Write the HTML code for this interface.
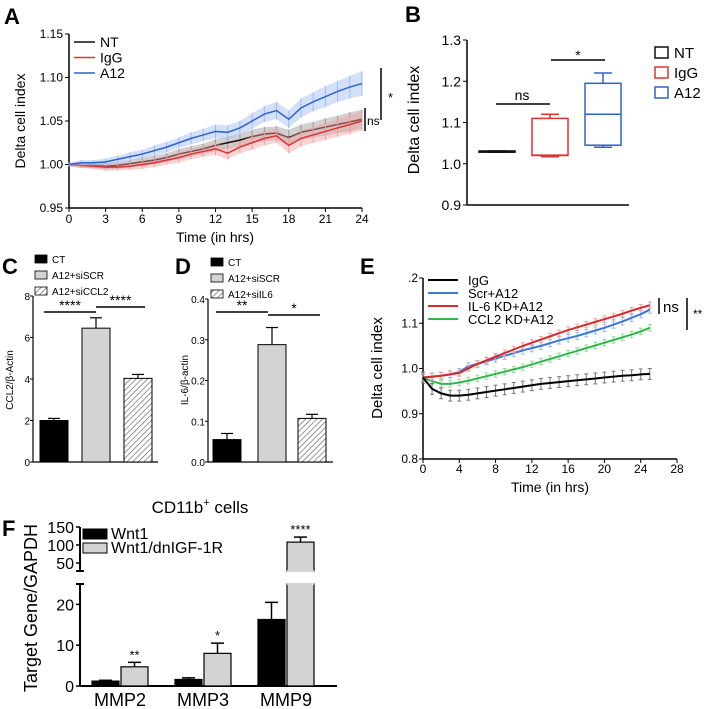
<!DOCTYPE html>
<html><head><meta charset="utf-8"><style>
body{margin:0;background:#fff}
svg{display:block;font-family:"Liberation Sans",sans-serif}
</style></head><body>
<svg id="fig" width="709" height="709" viewBox="0 0 709 709"></svg>
<script>
// ---------- DATA ----------
const aTimes=[0,1,2,3,4,5,6,7,8,9,10,11,12,13,14,15,16,17,18,19,20,21,22,23,24];
const aNT=[1.000,0.999,0.999,0.998,0.999,1.001,1.003,1.005,1.008,1.012,1.015,1.018,1.022,1.025,1.028,1.032,1.035,1.036,1.031,1.037,1.040,1.043,1.046,1.049,1.052];
const aIgG=[1.000,0.999,0.998,0.997,0.997,0.998,1.000,1.002,1.005,1.008,1.012,1.015,1.018,1.013,1.020,1.025,1.030,1.033,1.022,1.030,1.034,1.038,1.042,1.046,1.050];
const aA12=[1.000,1.002,1.002,1.003,1.006,1.009,1.012,1.016,1.020,1.025,1.030,1.034,1.038,1.037,1.042,1.050,1.058,1.062,1.052,1.065,1.072,1.078,1.084,1.089,1.093];
const aErrSmall=[0.002,0.003,0.003,0.004,0.004,0.004,0.005,0.005,0.005,0.006,0.006,0.006,0.007,0.007,0.007,0.008,0.008,0.008,0.009,0.009,0.009,0.010,0.010,0.011,0.011];
const aErrA12=[0.002,0.003,0.003,0.004,0.004,0.005,0.005,0.006,0.006,0.006,0.007,0.007,0.008,0.008,0.008,0.009,0.009,0.010,0.010,0.011,0.011,0.012,0.012,0.013,0.014];
const aXTicks=[0,3,6,9,12,15,18,21,24];
const aYTicks=[0.95,1.00,1.05,1.10,1.15];

const bGroups=["NT","IgG","A12"];
const bQ1=[1.028,1.020,1.045];
const bMed=[1.030,1.021,1.120];
const bQ3=[1.031,1.110,1.195];
const bMin=[1.028,1.017,1.040];
const bMax=[1.031,1.120,1.220];
const bYTicks=[0.9,1.0,1.1,1.2,1.3];

const cLabels=["CT","A12+siSCR","A12+siCCL2"];
const cVals=[2.0,6.45,4.03];
const cErr=[2.1,6.95,4.22];
const cYTicks=[0,2,4,6,8];

const dLabels=["CT","A12+siSCR","A12+siIL6"];
const dVals=[0.055,0.288,0.107];
const dErr=[0.070,0.330,0.117];
const dYTicks=[0.0,0.1,0.2,0.3,0.4];

const eTimes=[0,1,2,3,4,5,6,7,8,9,10,11,12,13,14,15,16,17,18,19,20,21,22,23,24,25];
const eIgG=[0.98,0.955,0.945,0.940,0.940,0.942,0.945,0.948,0.951,0.954,0.957,0.960,0.963,0.966,0.968,0.970,0.972,0.974,0.976,0.978,0.980,0.982,0.984,0.985,0.987,0.988];
const eScr=[0.98,0.982,0.984,0.987,0.992,1.005,1.010,1.016,1.022,1.028,1.034,1.040,1.045,1.050,1.056,1.062,1.067,1.072,1.078,1.084,1.090,1.097,1.104,1.112,1.120,1.130];
const eIL6=[0.98,0.982,0.984,0.987,0.990,1.000,1.010,1.018,1.026,1.034,1.042,1.050,1.057,1.064,1.071,1.078,1.085,1.091,1.097,1.103,1.109,1.115,1.121,1.128,1.134,1.140];
const eCCL2=[0.98,0.972,0.966,0.966,0.969,0.973,0.978,0.983,0.988,0.993,0.998,1.003,1.009,1.015,1.021,1.027,1.033,1.039,1.045,1.051,1.057,1.063,1.069,1.075,1.082,1.090];
const eXTicks=[0,4,8,12,16,20,24,28];
const eYTicks=[0.8,0.9,1.0,1.1,1.2];
const eYTickLabels=["0.8","0.9","1.0","1.1",".2"];

const fGenes=["MMP2","MMP3","MMP9"];
const fWnt1=[1.2,1.6,16.3];
const fWnt1Err=[1.4,2.0,20.5];
const fDn=[4.7,8.0,108];
const fDnErr=[5.8,10.5,122];
const fStars=["**","*","****"];
const fLowTicks=[0,10,20];
const fHighTicks=[50,100,150];

// ---------- HELPERS ----------
const NS="http://www.w3.org/2000/svg";
const svg=document.getElementById('fig');
function el(tag,attrs,parent,txt){const e=document.createElementNS(NS,tag);for(const k in attrs)e.setAttribute(k,attrs[k]);if(txt!==undefined)e.textContent=txt;(parent||svg).appendChild(e);return e;}
function grp(name){const g=el('g',{});


return g;}
function lin(d0,d1,r0,r1){return v=>r0+(v-d0)*(r1-r0)/(d1-d0);}

// ---------- PANEL A ----------
(function(){
const g=grp('panel-a');
const x=lin(0,24,69,362), y=lin(0.95,1.15,208,34);
let t=el('text',{x:4,y:24,'font-size':22,'font-weight':'bold'},g,'A');

el('line',{x1:69,y1:34,x2:69,y2:208,stroke:'#000','stroke-width':1.5},g);
el('line',{x1:69,y1:208,x2:362,y2:208,stroke:'#000','stroke-width':1.5},g);
aYTicks.forEach(v=>{el('line',{x1:65,x2:69,y1:y(v),y2:y(v),stroke:'#000'},g);
 const tt=el('text',{x:63,y:y(v)+4,'font-size':12,'text-anchor':'end'},g,v.toFixed(2));
 });
aXTicks.forEach(v=>{el('line',{x1:x(v),x2:x(v),y1:208,y2:212,stroke:'#000'},g);
 const tt=el('text',{x:x(v),y:223,'font-size':12,'text-anchor':'middle'},g,v);
 });
t=el('text',{x:215,y:242,'font-size':14,'text-anchor':'middle'},g,'Time (in hrs)');

t=el('text',{x:0,y:0,'font-size':14,'text-anchor':'middle',transform:'translate(25,121) rotate(-90)'},g,'Delta cell index');

const series=[[aNT,aErrSmall,'#111','#999','nt'],[aIgG,aErrSmall,'#d33','#f1a0a0','igg'],[aA12,aErrA12,'#2e64c8','#9dbbf0','a12']];
series.forEach(([vals,err,col,light,nm])=>{
 const sg=el('g',{},g);
 
 let up='',dn='';
 aTimes.forEach((tm,i)=>{up+=(i?'L':'M')+x(tm)+','+y(vals[i]+err[i]);});
 for(let i=aTimes.length-1;i>=0;i--)dn+='L'+x(aTimes[i])+','+y(vals[i]-err[i]);
 el('path',{d:up+dn+'Z',fill:light,opacity:0.45},sg);
 aTimes.forEach((tm,i)=>{el('line',{x1:x(tm),x2:x(tm),y1:y(vals[i]+err[i]),y2:y(vals[i]-err[i]),stroke:light,'stroke-width':1},sg);});
 el('path',{d:aTimes.map((tm,i)=>(i?'L':'M')+x(tm)+','+y(vals[i])).join(''),fill:'none',stroke:col,'stroke-width':1.5},sg);
});
const leg=[['NT','#111'],['IgG','#d33'],['A12','#2e64c8']];
leg.forEach(([n,c],i)=>{const lg=el('g',{},g);
 
 el('line',{x1:74,x2:95,y1:42+i*15.5,y2:42+i*15.5,stroke:c,'stroke-width':1.5},lg);
 el('text',{x:100,y:47+i*15.5,'font-size':14},lg,n);});
el('line',{x1:365,x2:365,y1:108,y2:131,stroke:'#000','stroke-width':1.5},g);
el('text',{x:367,y:125,'font-size':12},g,'ns');
el('line',{x1:381,x2:381,y1:68,y2:120,stroke:'#000','stroke-width':1.5},g);
el('text',{x:388,y:102,'font-size':13},g,'*');
})();

// ---------- PANEL B ----------
(function(){
const g=grp('panel-b');
const y=lin(0.9,1.3,205,40);
let t=el('text',{x:405,y:22,'font-size':22,'font-weight':'bold'},g,'B');

el('line',{x1:467,y1:40,x2:467,y2:205,stroke:'#000','stroke-width':1.5},g);
el('line',{x1:467,y1:205,x2:629,y2:205,stroke:'#000','stroke-width':1.5},g);
bYTicks.forEach(v=>{el('line',{x1:463,x2:467,y1:y(v),y2:y(v),stroke:'#000'},g);
 const tt=el('text',{x:461,y:y(v)+5,'font-size':14,'text-anchor':'end'},g,v.toFixed(1));
 });
t=el('text',{x:0,y:0,'font-size':16,'text-anchor':'middle',transform:'translate(419,120) rotate(-90)'},g,'Delta cell index');

const cols=['#111','#d33','#2e64c8'];const cx=[497,550,603];
bGroups.forEach((n,i)=>{const bg=el('g',{},g);
 
 const c=cols[i],l=cx[i]-18,r=cx[i]+18;
 el('line',{x1:cx[i],x2:cx[i],y1:y(bMax[i]),y2:y(bQ3[i]),stroke:c,'stroke-width':1.5},bg);
 el('line',{x1:cx[i],x2:cx[i],y1:y(bQ1[i]),y2:y(bMin[i]),stroke:c,'stroke-width':1.5},bg);
 el('line',{x1:cx[i]-9,x2:cx[i]+9,y1:y(bMax[i]),y2:y(bMax[i]),stroke:c,'stroke-width':1.5},bg);
 el('line',{x1:cx[i]-9,x2:cx[i]+9,y1:y(bMin[i]),y2:y(bMin[i]),stroke:c,'stroke-width':1.5},bg);
 el('rect',{x:l,y:y(bQ3[i]),width:36,height:Math.max(1,y(bQ1[i])-y(bQ3[i])),fill:'none',stroke:c,'stroke-width':1.5},bg);
 el('line',{x1:l,x2:r,y1:y(bMed[i]),y2:y(bMed[i]),stroke:c,'stroke-width':1.5},bg);
 const lg=el('g',{},g);
 
 el('rect',{x:655,y:47+i*20,width:13,height:11,fill:'none',stroke:c,'stroke-width':1.5},lg);
 el('text',{x:674,y:58+i*20,'font-size':15},lg,n);
});
el('line',{x1:496,x2:550,y1:104,y2:104,stroke:'#000','stroke-width':1.5},g);
el('text',{x:522,y:100,'font-size':14,'text-anchor':'middle'},g,'ns');
el('line',{x1:551,x2:605,y1:60,y2:60,stroke:'#000','stroke-width':1.5},g);
el('text',{x:578,y:60,'font-size':14,'text-anchor':'middle'},g,'*');
})();

// ---------- bar panel C/D ----------
function barPanel(name,letter,lx,ax,top,vals,err,labels,ticks,fmt,ylab,barsX,sig,legX){
 const g=grp(name);
 const y=lin(ticks[0],ticks[ticks.length-1],462,top);
 let t=el('text',{x:lx,y:274,'font-size':22,'font-weight':'bold'},g,letter);
 
 el('line',{x1:ax,y1:top,x2:ax,y2:462,stroke:'#000','stroke-width':1.2},g);
 el('line',{x1:ax,y1:462,x2:ax+125,y2:462,stroke:'#000','stroke-width':1.2},g);
 ticks.forEach(v=>{el('line',{x1:ax-3,x2:ax,y1:y(v),y2:y(v),stroke:'#000'},g);
  const tt=el('text',{x:ax-3,y:y(v)+4,'font-size':10,'text-anchor':'end'},g,fmt(v));
  });
 t=el('text',{x:0,y:0,'font-size':10,'text-anchor':'middle',transform:'translate('+(ax-20)+',380) rotate(-90)'},g,ylab);
 
 const fills=['#000','#d3d3d3','url(#hatch)'];
 vals.forEach((v,i)=>{const b=el('g',{},g);
  
  const bx=barsX[i];
  el('line',{x1:bx+14,x2:bx+14,y1:y(err[i]),y2:y(v),stroke:'#000','stroke-width':1.2},b);
  el('line',{x1:bx+8,x2:bx+20,y1:y(err[i]),y2:y(err[i]),stroke:'#000','stroke-width':1.2},b);
  el('rect',{x:bx,y:y(v),width:28,height:462-y(v),fill:fills[i],stroke:'#000','stroke-width':1},b);
  const lg=el('g',{},g);
  
  el('rect',{x:legX,y:top-41+i*16,width:12,height:8,fill:fills[i],stroke:'#000','stroke-width':0.8},lg);
  el('text',{x:legX+17,y:top-33+i*16,'font-size':10},lg,labels[i]);
 });
 sig.forEach(s=>{el('line',{x1:s[0],x2:s[1],y1:s[2],y2:s[2],stroke:'#000','stroke-width':1.5},g);
  el('text',{x:(s[0]+s[1])/2,y:s[2]-2,'font-size':14,'text-anchor':'middle'},g,s[3]);});
}
const defs=el('defs',{});
const pat=el('pattern',{id:'hatch',width:4,height:4,patternUnits:'userSpaceOnUse',patternTransform:'rotate(45)'},defs);
el('rect',{width:4,height:4,fill:'#fff'},pat);
el('line',{x1:0,y1:0,x2:0,y2:4,stroke:'#555','stroke-width':1.2},pat);
barPanel('panel-c','C',2,33,296,cVals,cErr,cLabels,cYTicks,v=>String(v),'CCL2/β-Actin',[40,82,124],[[44,96,312,'****'],[96,145,307,'****']],35);
barPanel('panel-d','D',175,208,299,dVals,dErr,dLabels,dYTicks,v=>v.toFixed(1),'IL-6/β-actin',[213,258,298],[[216,268,312,'**'],[268,320,315,'*']],211);

// ---------- PANEL E ----------
(function(){
const g=grp('panel-e');
const x=lin(0,28,423,677), y=lin(0.8,1.2,459,278);
let t=el('text',{x:360,y:274,'font-size':22,'font-weight':'bold'},g,'E');

el('line',{x1:423,y1:278,x2:423,y2:459,stroke:'#000','stroke-width':1.5},g);
el('line',{x1:423,y1:459,x2:677,y2:459,stroke:'#000','stroke-width':1.5},g);
eYTicks.forEach((v,i)=>{el('line',{x1:419,x2:423,y1:y(v),y2:y(v),stroke:'#000'},g);
 const tt=el('text',{x:418,y:y(v)+4,'font-size':12,'text-anchor':'end'},g,eYTickLabels[i]);
 });
eXTicks.forEach(v=>{el('line',{x1:x(v),x2:x(v),y1:459,y2:463,stroke:'#000'},g);
 const tt=el('text',{x:x(v),y:473,'font-size':12,'text-anchor':'middle'},g,v);
 });
t=el('text',{x:550,y:492,'font-size':14,'text-anchor':'middle'},g,'Time (in hrs)');

t=el('text',{x:0,y:0,'font-size':15,'text-anchor':'middle',transform:'translate(382,368) rotate(-90)'},g,'Delta cell index');

const ser=[[eCCL2,'#2fb84a','#8fdc9c','ccl2',0.007],[eScr,'#3a78d8','#9dbbf0','scr',0.008],[eIL6,'#d62b2b','#f1a0a0','il6',0.007],[eIgG,'#000','#777','igg',0.012]];
ser.forEach(([vals,col,light,nm,e])=>{const sg=el('g',{},g);
 
 eTimes.forEach((tm,i)=>{el('line',{x1:x(tm),x2:x(tm),y1:y(vals[i]+e),y2:y(vals[i]-e),stroke:light,'stroke-width':1},sg);
  el('line',{x1:x(tm)-2,x2:x(tm)+2,y1:y(vals[i]+e),y2:y(vals[i]+e),stroke:light,'stroke-width':1},sg);
  el('line',{x1:x(tm)-2,x2:x(tm)+2,y1:y(vals[i]-e),y2:y(vals[i]-e),stroke:light,'stroke-width':1},sg);});
 el('path',{d:eTimes.map((tm,i)=>(i?'L':'M')+x(tm)+','+y(vals[i])).join(''),fill:'none',stroke:col,'stroke-width':2},sg);
});
const leg=[['IgG','#000'],['Scr+A12','#3a78d8'],['IL-6 KD+A12','#d62b2b'],['CCL2 KD+A12','#2fb84a']];
leg.forEach(([n,c],i)=>{const lg=el('g',{},g);
 
 el('line',{x1:428,x2:458,y1:280+i*13,y2:280+i*13,stroke:c,'stroke-width':2},lg);
 el('text',{x:468,y:285+i*13,'font-size':13},lg,n);});
el('line',{x1:659,x2:659,y1:298,y2:314,stroke:'#000','stroke-width':1.5},g);
el('text',{x:663,y:312,'font-size':15},g,'ns');
el('line',{x1:687,x2:687,y1:298,y2:330,stroke:'#000','stroke-width':1.5},g);
el('text',{x:693,y:318,'font-size':12},g,'**');
})();

// ---------- PANEL F ----------
(function(){
const g=grp('panel-f');
const yl=lin(0,25,686,584), yh=lin(50,150,563,527);
let t=el('text',{x:2,y:536,'font-size':22,'font-weight':'bold'},g,'F');

t=el('text',{x:200,y:513,'font-size':17,'text-anchor':'middle'},g);

t.appendChild(document.createTextNode('CD11b'));
el('tspan',{dy:-7,'font-size':11},t,'+');el('tspan',{dy:7},t,' cells');
el('line',{x1:80,y1:527,x2:80,y2:571,stroke:'#000','stroke-width':2},g);
el('line',{x1:80,y1:584,x2:80,y2:686,stroke:'#000','stroke-width':2},g);
el('line',{x1:76,x2:84,y1:571,y2:571,stroke:'#000','stroke-width':2},g);
el('line',{x1:76,x2:84,y1:584,y2:584,stroke:'#000','stroke-width':2},g);
el('line',{x1:80,y1:686,x2:337,y2:686,stroke:'#000','stroke-width':2},g);
fLowTicks.forEach(v=>{el('line',{x1:76,x2:80,y1:yl(v),y2:yl(v),stroke:'#000','stroke-width':1.5},g);
 const tt=el('text',{x:74,y:yl(v)+6,'font-size':16,'text-anchor':'end'},g,v);
 });
fHighTicks.forEach(v=>{el('line',{x1:76,x2:80,y1:yh(v),y2:yh(v),stroke:'#000','stroke-width':1.5},g);
 const tt=el('text',{x:74,y:yh(v)+6,'font-size':16,'text-anchor':'end'},g,v);
 });
t=el('text',{x:0,y:0,'font-size':18,'text-anchor':'middle',transform:'translate(37,608) rotate(-90)'},g,'Target Gene/GAPDH');

function ymap(v){return v<=25?yl(v):yh(v);}
const centers=[120,203,286];
fGenes.forEach((gn,i)=>{const c=centers[i];
 [[fWnt1[i],fWnt1Err[i],'#000',c-28,'wnt1'],[fDn[i],fDnErr[i],'#d3d3d3',c+1,'dnigf1r']].forEach(([v,e,fill,bx,nm])=>{
  const b=el('g',{},g);
  
  el('line',{x1:bx+13.5,x2:bx+13.5,y1:ymap(e),y2:ymap(v),stroke:'#000','stroke-width':1.5},b);
  el('line',{x1:bx+7,x2:bx+20,y1:ymap(e),y2:ymap(e),stroke:'#000','stroke-width':1.5},b);
  if(v<=25){el('rect',{x:bx,y:yl(v),width:27,height:686-yl(v),fill:fill,stroke:'#000','stroke-width':1.2},b);}
  else{el('rect',{x:bx,y:584,width:27,height:102,fill:fill,stroke:'#000','stroke-width':1.2},b);
   el('rect',{x:bx,y:yh(v),width:27,height:571-yh(v),fill:fill,stroke:'#000','stroke-width':1.2},b);
   el('line',{x1:bx,x2:bx+27,y1:571,y2:571,stroke:fill,'stroke-width':2},b);
   el('line',{x1:bx,x2:bx+27,y1:584,y2:584,stroke:fill,'stroke-width':2},b);}
 });
 const st=el('text',{x:c+14.5,y:ymap(fDnErr[i])-3,'font-size':13,'text-anchor':'middle'},g,fStars[i]);
 
 const lb=el('text',{x:c,y:706,'font-size':18,'text-anchor':'middle'},g,gn);
 
});
[['Wnt1','#000'],['Wnt1/dnIGF-1R','#d3d3d3']].forEach(([n,c],i)=>{const lg=el('g',{},g);
 
 el('rect',{x:83,y:529+i*14,width:24,height:10,fill:c,stroke:'#000','stroke-width':1},lg);
 el('text',{x:111,y:539+i*14,'font-size':16},lg,n);});
})();
</script>
</body></html>
